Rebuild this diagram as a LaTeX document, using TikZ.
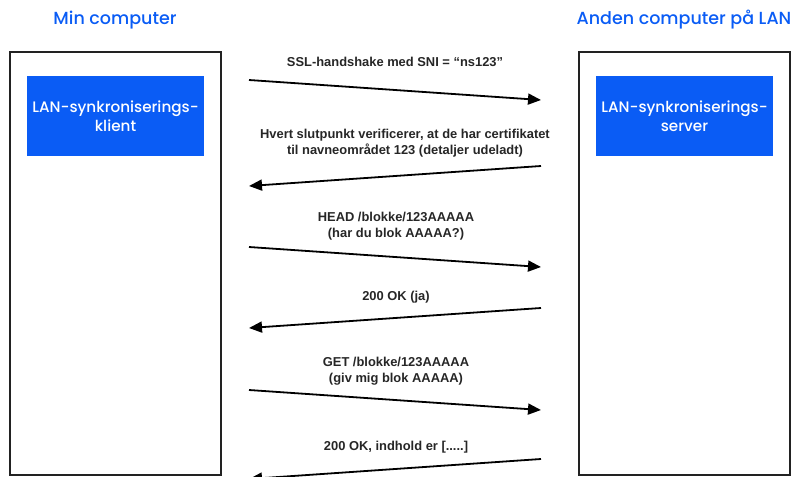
\documentclass[tikz,border=0pt]{standalone}
\usepackage{fontspec}
\setmainfont{Liberation Sans}
\newfontfamily\geofont{Poppins}[UprightFont=* Medium]
\newfontfamily\bodyfont{Liberation Sans}
\usetikzlibrary{arrows.meta}
\definecolor{accent}{HTML}{0A5CF5}
\definecolor{frame}{HTML}{222222}
\tikzset{
  x=1pt, y=-1pt,
  machine/.style={draw=frame, line width=2pt},
  blueblock/.style={fill=accent, text=white, minimum width=177pt, minimum height=80pt, inner sep=0pt, align=center, font=\geofont\fontsize{15.2}{18.5}\selectfont},
  heading/.style={text=accent, font=\geofont\fontsize{17.5}{20}\selectfont, inner sep=0pt},
  msg/.style={line width=1.8pt, draw=black, -{Triangle[length=13pt,width=11pt]}},
  msglabel/.style={align=center, inner sep=0pt, font=\bodyfont\bfseries\fontsize{12.9}{16.3}\selectfont, text=black!85},
}
\begin{document}
\begin{tikzpicture}
\useasboundingbox (0,0) rectangle (794,476);
\clip (0,0) rectangle (794,476);
\node[heading] (t1) at (115,20) {Min computer};
\node[heading] (t2) at (684,20) {Anden computer på LAN};
\draw[machine] (10,52) rectangle (221,475);
\draw[machine] (579,52) rectangle (790,475);
\node[blueblock] (client) at (115.5,116) {LAN-synkroniserings-\\klient};
\node[blueblock] (server) at (684.5,116) {LAN-synkroniserings-\\server};
% coordinates
\coordinate (a1s) at (249,80);  \coordinate (a1e) at (541,100);
\coordinate (a2s) at (541,166); \coordinate (a2e) at (249,186);
\coordinate (a3s) at (249,247); \coordinate (a3e) at (541,267);
\coordinate (a4s) at (541,308); \coordinate (a4e) at (249,328);
\coordinate (a5s) at (249,390); \coordinate (a5e) at (541,410);
\coordinate (a6s) at (541,459); \coordinate (a6e) at (249,479);
\draw[msg] (a1s) -- (a1e);
\draw[msg] (a2s) -- (a2e);
\draw[msg] (a3s) -- (a3e);
\draw[msg] (a4s) -- (a4e);
\draw[msg] (a5s) -- (a5e);
\draw[msg] (a6s) -- (a6e);
\node[msglabel] (l1) at (395,62) {SSL-handshake med SNI = “ns123”};
\node[msglabel] (l2) at (405,143) {Hvert slutpunkt verificerer, at de har certifikatet\\til navneområdet 123 (detaljer udeladt)};
\node[msglabel] (l3) at (396,226) {HEAD /blokke/123AAAAA\\(har du blok AAAAA?)};
\node[msglabel] (l4) at (396,297) {200 OK (ja)};
\node[msglabel] (l5) at (396,371) {GET /blokke/123AAAAA\\(giv mig blok AAAAA)};
\node[msglabel] (l6) at (396,447) {200 OK, indhold er [.....]};
\end{tikzpicture}
\end{document}
